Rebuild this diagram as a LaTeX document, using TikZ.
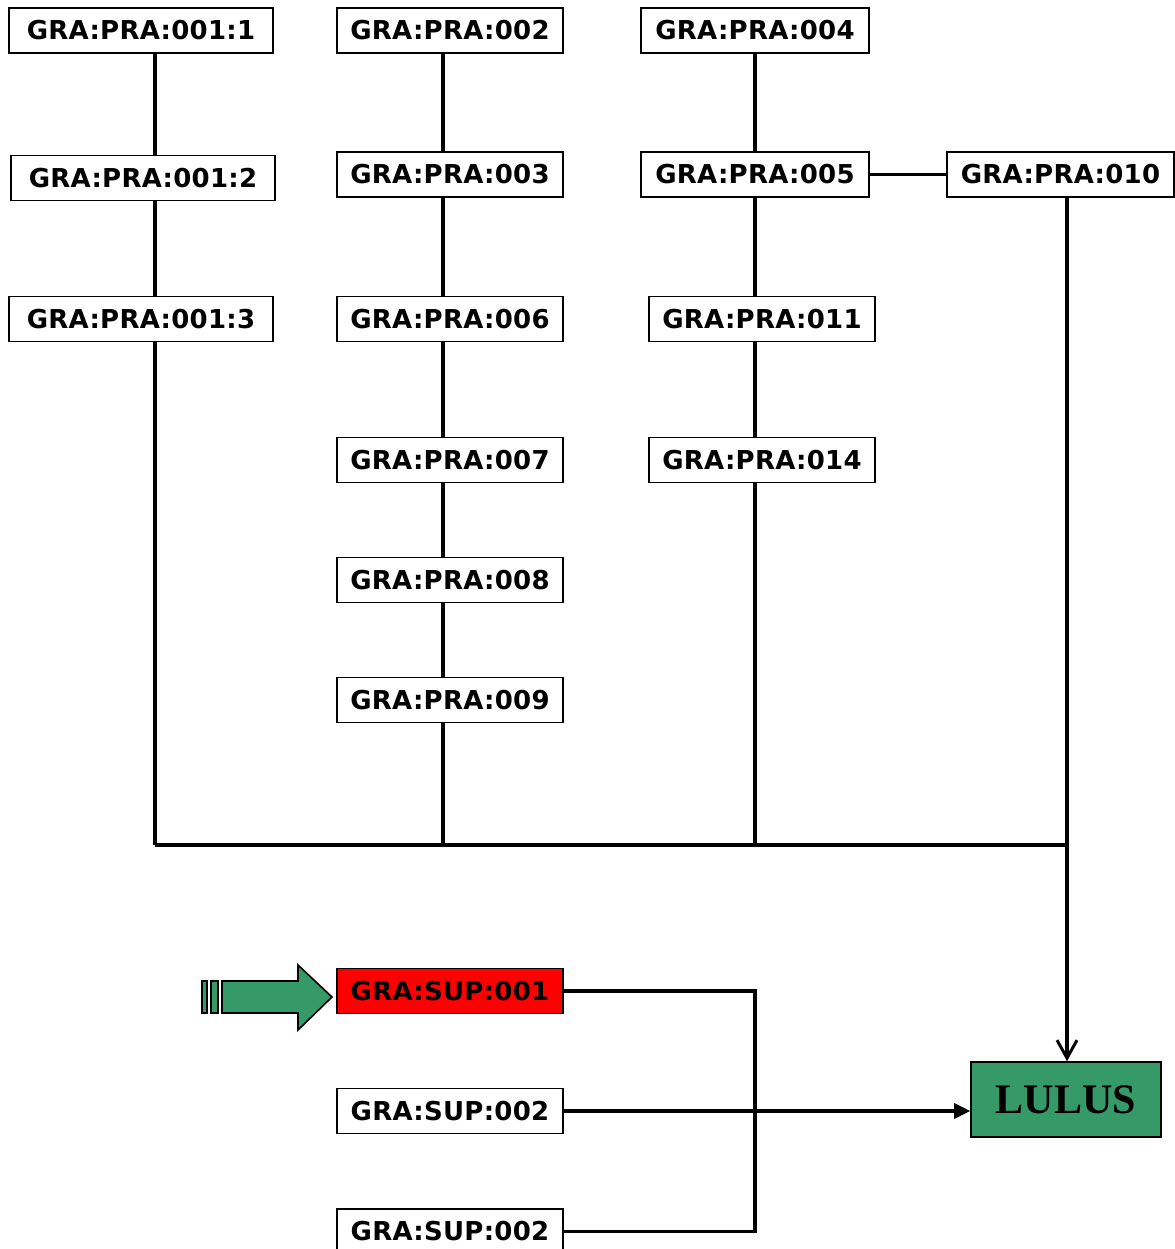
\documentclass[tikz,border=0pt]{standalone}
\usepackage{fontspec}
\usepackage{tikz}
\usetikzlibrary{arrows.meta}
\newfontfamily\kotakfont{DejaVu Sans}[LetterSpace=1]
\newfontfamily\lulusfont{Liberation Serif}
\definecolor{hijauLulus}{RGB}{53,153,104}

\begin{document}
\begin{tikzpicture}[x=0.5pt,y=-0.5pt,
  kotak/.style={draw, line width=0.8pt, fill=white, minimum height=22.5pt, inner sep=0pt,
    font=\kotakfont\bfseries\fontsize{13}{15}\selectfont},
  kotakLulus/.style={draw, line width=0.8pt, fill=hijauLulus, minimum width=95pt, minimum height=37.5pt,
    font=\lulusfont\bfseries\fontsize{21}{24}\selectfont},
  garis/.style={line width=1.6pt}]
\useasboundingbox (0,0) rectangle (1174,1249);
\node[kotak, minimum width=132pt] (p0011) at (141,30.5) {GRA:PRA:001:1};
\node[kotak, minimum width=132pt] (p0012) at (143,178) {GRA:PRA:001:2};
\node[kotak, minimum width=132pt] (p0013) at (141,319) {GRA:PRA:001:3};
\node[kotak, minimum width=113pt] (p002) at (450,30.5) {GRA:PRA:002};
\node[kotak, minimum width=113pt] (p003) at (450,174.5) {GRA:PRA:003};
\node[kotak, minimum width=113pt] (p006) at (450,319) {GRA:PRA:006};
\node[kotak, minimum width=113pt] (p007) at (450,460) {GRA:PRA:007};
\node[kotak, minimum width=113pt] (p008) at (450,580) {GRA:PRA:008};
\node[kotak, minimum width=113pt] (p009) at (450,700) {GRA:PRA:009};
\node[kotak, minimum width=114pt] (p004) at (755,30.5) {GRA:PRA:004};
\node[kotak, minimum width=114pt] (p005) at (755,174.5) {GRA:PRA:005};
\node[kotak, minimum width=113pt] (p011) at (762,319) {GRA:PRA:011};
\node[kotak, minimum width=113pt] (p014) at (762,460) {GRA:PRA:014};
\node[kotak, minimum width=113.5pt] (p010) at (1060.5,174.5) {GRA:PRA:010};
\node[kotak, minimum width=113pt, fill=red] (s001) at (450,991) {GRA:SUP:001};
\node[kotak, minimum width=113pt] (s002) at (450,1111) {GRA:SUP:002};
\node[kotak, minimum width=113pt] (s002b) at (450,1231.5) {GRA:SUP:002};
\node[kotakLulus] (lulus) at (1066,1099.5) {LULUS};

\coordinate (k1) at (155,845);
\coordinate (k2) at (443,845);
\coordinate (k3) at (755,845);
\coordinate (k4) at (1067,845);
\coordinate (k5) at (755,1100);

\foreach \a/\b in {p0011/p0012,p0012/p0013}
  \draw[garis] (\a.south -| k1) -- (\b.north -| k1);
\draw[garis] (p0013.south -| k1) -- (k1);
\foreach \a/\b in {p002/p003,p003/p006,p006/p007,p007/p008,p008/p009}
  \draw[garis] (\a.south -| k2) -- (\b.north -| k2);
\draw[garis] (p009.south -| k2) -- (k2);
\foreach \a/\b in {p004/p005,p005/p011,p011/p014}
  \draw[garis] (\a.south -| k3) -- (\b.north -| k3);
\draw[garis] (p014.south -| k3) -- (k3);
\draw[garis] (p005.east) -- (p010.west);
\draw[garis] (k1) -- (k4);
\draw[garis, -{Straight Barb[length=9pt, width=10pt, line width=1.5pt]}] (p010.south -| k4) -- (lulus.north -| k4);

\draw[garis] (s001.east) -- (s001.east -| k5) -- (s002b.east -| k5) -- (s002b.east);
\draw[garis, -{Triangle[length=8pt, width=7.5pt]}] (s002.east) -- (s002.east -| lulus.west);

\draw[line width=0.8pt, fill=hijauLulus] (222,981) -- (298,981) -- (298,965) -- (332,997)
  -- (298,1030) -- (298,1013) -- (222,1013) -- cycle;
\draw[line width=0.8pt, fill=hijauLulus] (202,981) rectangle (207,1013);
\draw[line width=0.8pt, fill=hijauLulus] (211,981) rectangle (218,1013);
\end{tikzpicture}
\end{document}
